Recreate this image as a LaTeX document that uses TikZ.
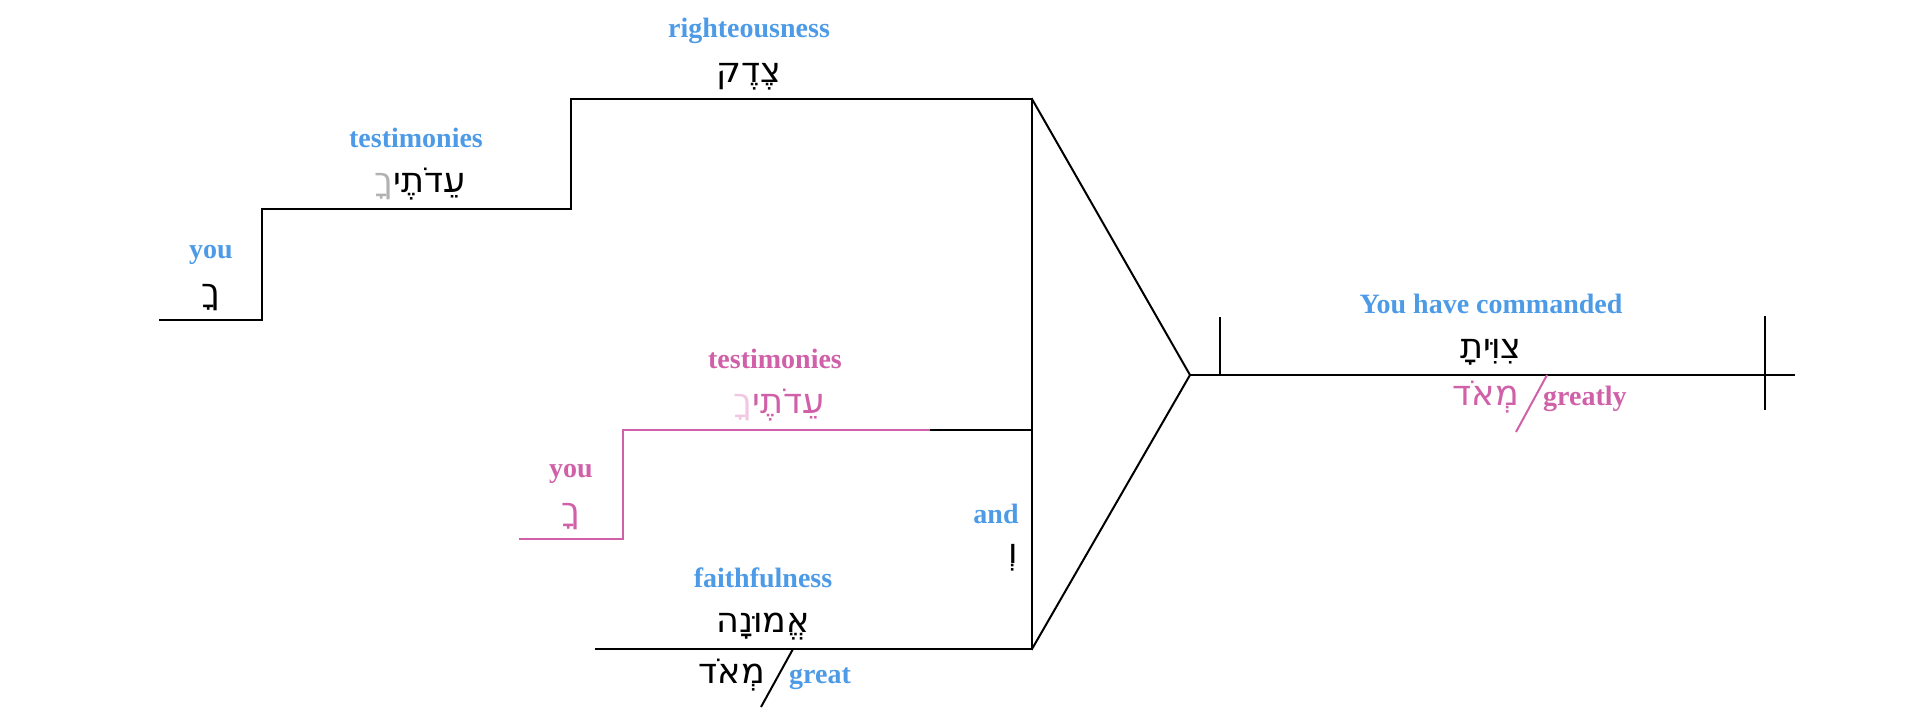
\documentclass[tikz,border=0pt]{standalone}
\usepackage{fontspec}
\setmainfont{Liberation Serif}
\newfontfamily\heb[Script=Hebrew]{DejaVu Sans}
\TeXXeTstate=1
\definecolor{eblue}{RGB}{77,155,230}
\definecolor{epink}{RGB}{208,96,168}
\definecolor{lpink}{RGB}{240,200,226}
\definecolor{hgray}{RGB}{178,178,178}
\begin{document}
\begin{tikzpicture}[x=1pt,y=-1pt,
  en/.style={font=\fontsize{28}{30}\selectfont\bfseries, text=eblue, inner sep=0pt, anchor=base},
  he/.style={font=\heb\fontsize{35}{37}\selectfont, inner sep=0pt, anchor=base},
  ln/.style={line width=2pt, line cap=rect, line join=miter},
  pk/.style={ln, draw=epink}]
\useasboundingbox (0,0) rectangle (1920,720);
% coordinates
\coordinate (y1) at (160,320);
\coordinate (y2) at (262,320);
\coordinate (t1) at (262,209);
\coordinate (t2) at (571,209);
\coordinate (r1) at (571,99);
\coordinate (r2) at (1032,99);
\coordinate (f1) at (596,649);
\coordinate (f2) at (1032,649);
\coordinate (p1) at (520,539);
\coordinate (p2) at (623,539);
\coordinate (p3) at (623,430);
\coordinate (p4) at (931,430);
\coordinate (p5) at (1032,430);
\coordinate (apex) at (1190,375);
\coordinate (m2) at (1794,375);
\coordinate (k1a) at (1220,318);
\coordinate (k1b) at (1220,375);
\coordinate (k2a) at (1765,317);
\coordinate (k2b) at (1765,409);
\coordinate (s1a) at (793,649);
\coordinate (s1b) at (761,707);
\coordinate (s2a) at (1547,375);
\coordinate (s2b) at (1516,432);
% lines
\draw[ln] (y1) -- (y2) -- (t1) -- (t2) -- (r1) -- (r2);
\draw[ln] (r2) -- (f2);
\draw[ln] (f1) -- (f2);
\draw[pk] (p1) -- (p2) -- (p3) -- (p4);
\draw[ln] (p4) -- (p5);
\draw[ln] (r2) -- (apex) -- (f2);
\draw[ln] (apex) -- (m2);
\draw[ln] (k1a) -- (k1b);
\draw[ln] (k2a) -- (k2b);
\draw[ln, line cap=butt] (s1a) -- (s1b);
\draw[ln, line cap=butt, draw=epink] (s2a) -- (s2b);
% texts
\node[en] (e1) at (749,37) {righteousness};
\node[he] (h1) at (749,82) {\beginR צֶדֶק\endR};
\node[en] (e2) at (416,147) {testimonies};
\node[he] (h2) at (420,192) {\textcolor{hgray}{ךָ}עֵדֹתֶי};
\node[en] (e3) at (211,258) {you};
\node[he] (h3) at (211,303) {\beginR ךָ\endR};
\node[en, text=epink] (e4) at (775,368) {testimonies};
\node[he, text=epink] (h4) at (779,413) {\textcolor{lpink}{ךָ}עֵדֹתֶי};
\node[en, text=epink] (e5) at (571,477) {you};
\node[he, text=epink] (h5) at (571,522) {\beginR ךָ\endR};
\node[en] (e6) at (996,523) {and};
\node[he] (h6) at (1013,563) {\beginR וְ\endR};
\node[en] (e7) at (763,587) {faithfulness};
\node[he] (h7) at (763,632) {\beginR אֱמוּנָה\endR};
\node[he, anchor=base east] (h8) at (765,683) {\beginR מְאֹד\endR};
\node[en, anchor=base west] (e8) at (789,683) {great};
\node[en] (e9) at (1491,313) {You have commanded};
\node[he] (h9) at (1491,358) {\beginR צִוִּיתָ\endR};
\node[he, anchor=base east, text=epink] (h10) at (1519,405) {\beginR מְאֹד\endR};
\node[en, anchor=base west, text=epink] (e10) at (1543,405) {greatly};
\end{tikzpicture}
\end{document}
